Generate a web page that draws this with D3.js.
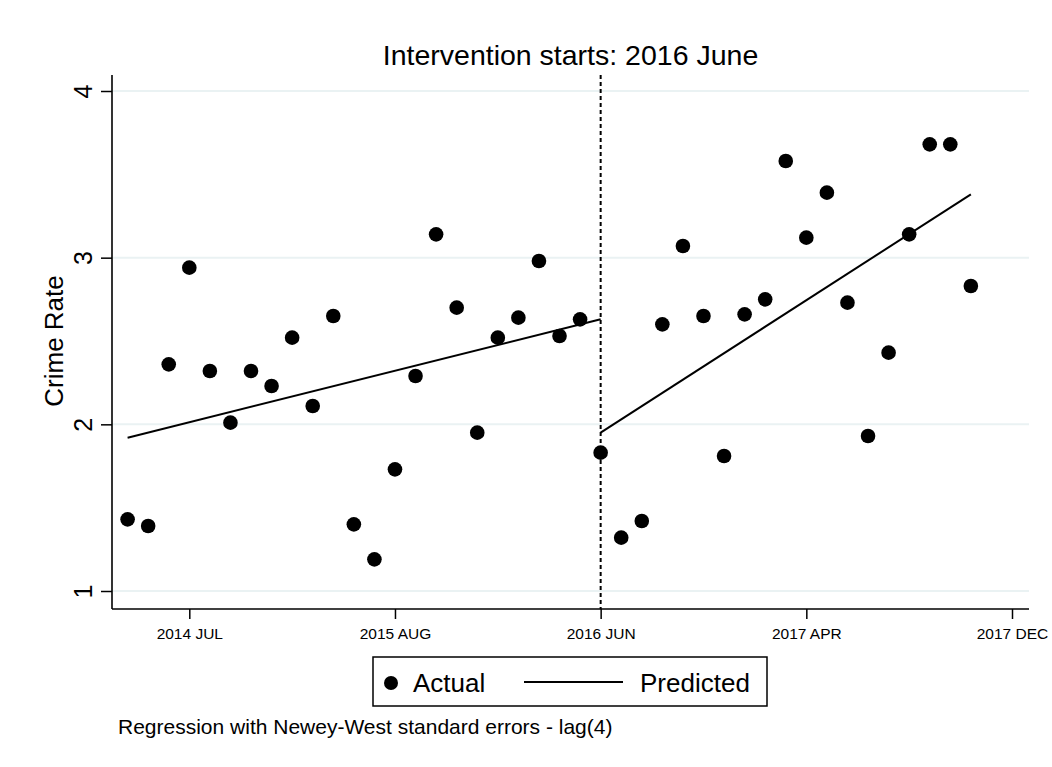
<!DOCTYPE html>
<html>
<head>
<meta charset="utf-8">
<script src="https://cdn.jsdelivr.net/npm/d3@7"></script>
<style>
  html, body { margin: 0; padding: 0; background: #fff; }
  svg { display: block; font-family: "Liberation Sans", Arial, sans-serif; }
</style>
</head>
<body>
<svg id="chart" width="1052" height="767"></svg>
<script>
  // time index of each monthly observation
  var periods = [1, 2, 3, 4, 5, 6, 7, 8, 9, 10, 11, 12, 13, 14, 15, 16, 17, 18, 19, 20, 21,
    22, 23, 24, 25, 26, 27, 28, 29, 30, 31, 32, 33, 34, 35, 36, 37, 38, 39, 40, 41, 42];
  var actual = [1.43, 1.39, 2.36, 2.94, 2.32, 2.01, 2.32, 2.23, 2.52, 2.11, 2.65, 1.40, 1.19, 1.73,
    2.29, 3.14, 2.70, 1.95, 2.52, 2.64, 2.98, 2.53, 2.63, 1.83, 1.32, 1.42, 2.60, 3.07,
    2.65, 1.81, 2.66, 2.75, 3.58, 3.12, 3.39, 2.73, 1.93, 2.43, 3.14, 3.68, 3.68, 2.83];

  // fitted segments (start / end of each period)
  var predPrePeriods = [1, 24];
  var predPreValues = [1.92, 2.63];
  var predPostPeriods = [24, 42];
  var predPostValues = [1.95, 3.38];

  var interventionPeriod = 24;
  var xTickValues = [4, 14, 24, 34, 44];
  var xTickLabels = ["2014 JUL", "2015 AUG", "2016 JUN", "2017 APR", "2017 DEC"];
  var yTickValues = [1, 2, 3, 4];

  var svg = d3.select("#chart");
  var plotL = 112, plotR = 1029, plotT = 75, plotB = 609;

  var x = d3.scaleLinear().domain([4, 44]).range([189.3, 1012]);
  var y = d3.scaleLinear().domain([1, 4]).range([591, 91]);

  // grid lines
  svg.append("g").selectAll("line").data(yTickValues).enter().append("line")
    .attr("x1", plotL).attr("x2", plotR)
    .attr("y1", function(d) { return y(d); }).attr("y2", function(d) { return y(d); })
    .attr("stroke", "#eaf2f3").attr("stroke-width", 2);

  // y axis
  var gy = svg.append("g").attr("transform", "translate(" + plotL + ",0)")
    .call(d3.axisLeft(y).tickValues(yTickValues).tickSize(11).tickFormat(d3.format("d")));
  gy.select(".domain").remove();
  gy.selectAll(".tick line").attr("stroke", "#000").attr("stroke-width", 1.5);
  gy.selectAll(".tick text")
    .attr("x", null).attr("dy", null)
    .attr("transform", "translate(-20,0) rotate(-90)")
    .attr("text-anchor", "middle")
    .attr("font-size", 25).attr("fill", "#000");

  // x axis
  var gx = svg.append("g").attr("transform", "translate(0," + plotB + ")")
    .call(d3.axisBottom(x).tickValues(xTickValues).tickSize(10)
      .tickFormat(function(d, i) { return xTickLabels[i]; }));
  gx.select(".domain").remove();
  gx.selectAll(".tick line").attr("stroke", "#000").attr("stroke-width", 1.5);
  gx.selectAll(".tick text").attr("y", 30).attr("dy", null)
    .attr("font-size", 15.5).attr("fill", "#000");

  // axis lines
  svg.append("line").attr("x1", plotL).attr("x2", plotL).attr("y1", plotT).attr("y2", plotB)
    .attr("stroke", "#000").attr("stroke-width", 1.6);
  svg.append("line").attr("x1", plotL).attr("x2", plotR).attr("y1", plotB).attr("y2", plotB)
    .attr("stroke", "#000").attr("stroke-width", 1.6);

  // intervention line
  svg.append("line")
    .attr("x1", x(interventionPeriod)).attr("x2", x(interventionPeriod))
    .attr("y1", plotT).attr("y2", plotB)
    .attr("stroke", "#000").attr("stroke-width", 2).attr("stroke-dasharray", "4,3");

  // predicted lines
  var line = d3.line().x(function(d) { return x(d[0]); }).y(function(d) { return y(d[1]); });
  [d3.zip(predPrePeriods, predPreValues), d3.zip(predPostPeriods, predPostValues)].forEach(function(seg) {
    svg.append("path").attr("d", line(seg))
      .attr("fill", "none").attr("stroke", "#000").attr("stroke-width", 2);
  });

  // actual points
  svg.append("g").selectAll("circle").data(d3.zip(periods, actual)).enter().append("circle")
    .attr("cx", function(d) { return x(d[0]); })
    .attr("cy", function(d) { return y(d[1]); })
    .attr("r", 7.3).attr("fill", "#000");

  // title
  svg.append("text").attr("x", 570.5).attr("y", 65).attr("text-anchor", "middle")
    .attr("font-size", 28.5).attr("fill", "#000").text("Intervention starts: 2016 June");

  // y axis title
  svg.append("text").attr("transform", "translate(63,341) rotate(-90)")
    .attr("text-anchor", "middle").attr("font-size", 26).attr("fill", "#000").text("Crime Rate");

  // legend
  var lg = svg.append("g");
  lg.append("rect").attr("x", 373).attr("y", 657).attr("width", 394).attr("height", 49)
    .attr("fill", "#fff").attr("stroke", "#000").attr("stroke-width", 1.5);
  lg.append("circle").attr("cx", 391).attr("cy", 683).attr("r", 7).attr("fill", "#000");
  lg.append("text").attr("x", 413).attr("y", 692).attr("font-size", 26).attr("fill", "#000").text("Actual");
  lg.append("line").attr("x1", 524).attr("x2", 623).attr("y1", 682).attr("y2", 682)
    .attr("stroke", "#000").attr("stroke-width", 2);
  lg.append("text").attr("x", 640).attr("y", 692).attr("font-size", 26).attr("fill", "#000").text("Predicted");

  // note
  svg.append("text").attr("x", 118).attr("y", 734).attr("font-size", 21).attr("fill", "#000")
    .text("Regression with Newey-West standard errors - lag(4)");
</script>
</body>
</html>
